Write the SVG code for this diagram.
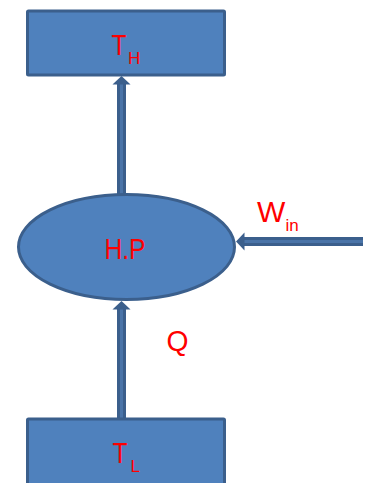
<svg xmlns="http://www.w3.org/2000/svg" width="366" height="483" viewBox="0 0 366 483">
  <style>
    .box { fill: #4f81bd; stroke: #3b5f8c; stroke-width: 3; }
    .lbl { font-family: "Liberation Sans", Arial, sans-serif; fill: #ff0000; }
    .big { font-size: 30px; }
    .sub { font-size: 17px; }
    .shaft { stroke: #3b5f8c; stroke-width: 9; fill: none; }
    .core { stroke: #4a74a8; stroke-width: 3; fill: none; }
    .head { fill: #3b5f8c; }
  </style>
  <rect x="0" y="0" width="366" height="483" fill="#ffffff"/>
  <g id="connectors">
    <g id="hp-to-th">
      <line class="shaft" x1="121.5" y1="194" x2="121.5" y2="83"/>
      <line class="core" x1="121.5" y1="194" x2="121.5" y2="84"/>
      <polygon class="head" points="121.5,76 112.5,84.5 130.5,84.5"/>
    </g>
    <g id="tl-to-hp">
      <line class="shaft" x1="121.5" y1="418" x2="121.5" y2="308"/>
      <line class="core" x1="121.5" y1="418" x2="121.5" y2="309"/>
      <polygon class="head" points="121.5,301 112.5,309.5 130.5,309.5"/>
    </g>
    <g id="win-to-hp">
      <line class="shaft" x1="363" y1="241.5" x2="243" y2="241.5"/>
      <line class="core" x1="363" y1="241.5" x2="244" y2="241.5"/>
      <polygon class="head" points="236,241.5 244.5,232.5 244.5,250.5"/>
    </g>
    <text class="lbl big" x="257" y="222">W</text>
    <text class="lbl sub" x="285.5" y="231">in</text>
    <text class="lbl big" x="166.5" y="351" textLength="22" lengthAdjust="spacingAndGlyphs">Q</text>
  </g>
  <g id="node-TH">
    <rect class="box" x="27.5" y="11" width="197" height="64" rx="1"/>
    <text class="lbl big" x="111.5" y="55" textLength="15" lengthAdjust="spacingAndGlyphs">T</text>
    <text class="lbl sub" x="128" y="64">H</text>
  </g>
  <g id="node-HP">
    <ellipse class="box" cx="126.5" cy="247" rx="108" ry="52.5"/>
    <text class="lbl big" x="104.5" y="259" textLength="41" lengthAdjust="spacingAndGlyphs">H.P</text>
  </g>
  <g id="node-TL">
    <rect class="box" x="27.5" y="419" width="197" height="80" rx="1"/>
    <text class="lbl big" x="112.5" y="463" textLength="15" lengthAdjust="spacingAndGlyphs">T</text>
    <text class="lbl sub" x="130.5" y="472">L</text>
  </g>
</svg>
